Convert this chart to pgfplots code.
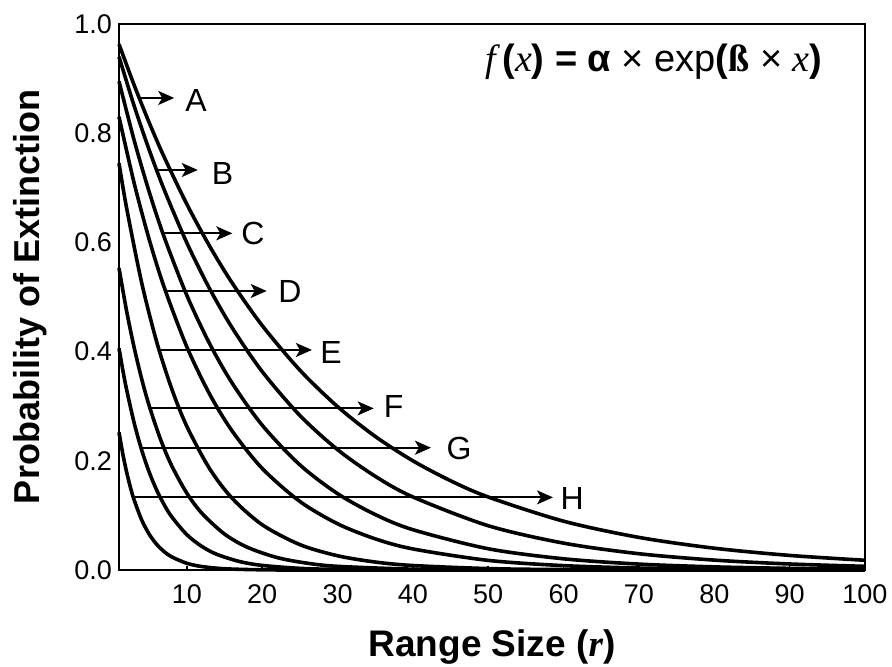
\documentclass[border=0pt]{standalone}
\usepackage{fontspec}
\setmainfont{Liberation Sans}
\newfontfamily\serif{Liberation Serif}
\usepackage{pgfplots}
\pgfplotsset{compat=1.18}
\usetikzlibrary{arrows.meta}

\begin{document}
\begin{tikzpicture}
\begin{axis}[
  at={(0,0)}, anchor=south west,
  scale only axis, width=373pt, height=273pt,
  xmin=1, xmax=100, ymin=0, ymax=1,
  clip=false,
  axis line style={line width=0.75pt},
  xtick={10,20,30,40,50,60,70,80,90,100},
  ytick={0,0.2,0.4,0.6,0.8,1},
  xtick pos=bottom, ytick pos=left, tick align=inside,
  major tick length=2pt,
  x tick style={line width=0.75pt, black},
  y tick style={draw=none},
  /pgf/number format/assume math mode=true,
  tick label style={font=\fontsize{13.5}{16}\selectfont},
  xticklabel style={yshift=-4pt},
  yticklabel style={/pgf/number format/.cd, fixed, fixed zerofill, precision=1},
  xlabel={Range Size ({\serif\itshape r})},
  xlabel style={at={(axis description cs:0.5,-0.1593)}, anchor=base,
                font=\fontsize{18.5}{22}\selectfont\bfseries},
  ylabel={Probability of Extinction},
  ylabel style={at={(axis description cs:-0.1066,0.5)}, anchor=base,
                font=\fontsize{18}{22}\selectfont\bfseries},
  curve/.style={black, line width=1.8pt, smooth, mark=none},
]
% eight curves alpha*exp(beta*x), A (top) to H (bottom)
\addplot[curve] coordinates {(1,0.963)(3,0.8885)(5,0.8196)(7,0.7562)(10,0.6701)(13,0.5938)(16,0.5261)(20,0.4478)(25,0.3661)(30,0.2993)(35,0.2447)(40,0.2000)(45,0.1635)(50,0.1337)(60,0.0894)(70,0.0597)(80,0.0399)(90,0.0267)(100,0.0178)};
\addplot[curve] coordinates {(1,0.94)(3,0.8505)(5,0.7696)(7,0.6964)(10,0.5993)(13,0.5159)(16,0.4440)(20,0.3635)(25,0.2831)(30,0.2205)(35,0.1717)(40,0.1338)(50,0.0811)(60,0.0492)(70,0.0298)(80,0.0181)(90,0.0110)(100,0.0067)};
\addplot[curve] coordinates {(1,0.895)(3,0.7875)(5,0.6928)(7,0.6096)(10,0.5031)(13,0.4152)(16,0.3427)(20,0.2653)(25,0.1926)(30,0.1399)(35,0.1016)(40,0.0738)(50,0.0389)(60,0.0205)(70,0.0108)(80,0.0057)(90,0.0030)(100,0.0016)};
\addplot[curve] coordinates {(1,0.83)(3,0.7092)(5,0.6058)(7,0.5176)(10,0.4088)(13,0.3228)(16,0.2549)(20,0.1861)(25,0.1256)(30,0.0847)(35,0.0571)(40,0.0386)(50,0.0176)(60,0.0080)(70,0.0036)(80,0.0017)(100,0.0003)};
\addplot[curve] coordinates {(1,0.745)(2,0.6637)(4,0.5267)(6,0.4179)(8,0.3317)(10,0.2632)(13,0.1861)(16,0.1316)(20,0.0829)(25,0.0465)(30,0.0261)(35,0.0146)(40,0.0082)(50,0.0026)(60,0.0008)(80,0.0001)(100,0)};
\addplot[curve] coordinates {(1,0.553)(2,0.4750)(3,0.4081)(4,0.3505)(5,0.3011)(6.5,0.2397)(8,0.1908)(10,0.1408)(12,0.1039)(15,0.0659)(18,0.0418)(22,0.0227)(26,0.0124)(30,0.0067)(40,0.0015)(50,0.0003)(100,0)};
\addplot[curve] coordinates {(1,0.406)(1.5,0.3666)(2,0.3311)(3,0.2700)(4,0.2202)(5,0.1795)(6,0.1464)(7,0.1194)(8,0.0974)(10,0.0647)(12,0.0431)(14,0.0286)(17,0.0155)(20,0.0084)(25,0.0030)(30,0.0011)(40,0.0001)(100,0)};
\addplot[curve] coordinates {(1,0.252)(1.5,0.2130)(2,0.1801)(2.5,0.1522)(3,0.1287)(4,0.0920)(5,0.0657)(6,0.0470)(7,0.0336)(8,0.0240)(10,0.0123)(12,0.0063)(15,0.0023)(20,0.0004)(30,0)(100,0)};

% arrows and their letters
\tikzset{arr/.style={line width=1pt, -{Stealth[length=8pt,width=7pt,inset=2pt]}},
         lab/.style={font=\fontsize{16}{19}\selectfont, inner sep=0pt}}
\draw[arr] (3.79,0.8645) -- (8.33,0.8645);
\draw[arr] (6.0,0.7326) -- (11.45,0.7326);
\draw[arr] (6.89,0.6166) -- (16.04,0.6166);
\draw[arr] (7.1,0.511) -- (20.6,0.511);
\draw[arr] (6.22,0.403) -- (26.6,0.403);
\draw[arr] (5.12,0.296) -- (34.8,0.296);
\draw[arr] (3.92,0.224) -- (42.4,0.224);
\draw[arr] (2.9,0.133) -- (58.6,0.133);
\node[lab] at (11.22,0.859) {A};
\node[lab] at (14.74,0.727) {B};
\node[lab] at (18.79,0.616) {C};
\node[lab] at (23.70,0.510) {D};
\node[lab] at (29.14,0.399) {E};
\node[lab] at (37.44,0.299) {F};
\node[lab] at (46.13,0.2225) {G};
\node[lab] at (61.13,0.131) {H};

\node[anchor=base, font=\fontsize{19}{23}\selectfont] at (72,0.9126)
  {{\serif\itshape f\,}\textbf{(}{\serif\itshape x}\textbf{) = α} × exp\textbf{(}{\serif\bfseries ß} × {\serif\itshape x}\textbf{)}};
\end{axis}
\pgfresetboundingbox
\path[use as bounding box] (-59.5pt,-48.5pt) rectangle (386.5pt,285pt);
\end{tikzpicture}
\end{document}
